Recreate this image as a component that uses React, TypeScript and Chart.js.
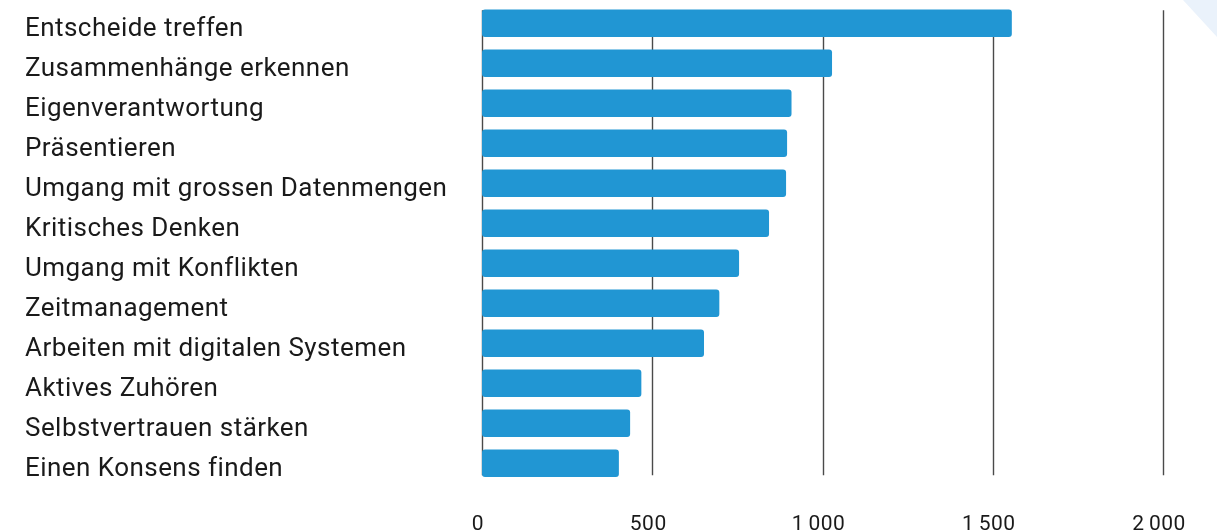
import React, { useEffect, useRef } from "react";
import { Chart, registerables } from "chart.js";

Chart.register(...registerables);

const categories = [
  "Entscheide treffen",
  "Zusammenhänge erkennen",
  "Eigenverantwortung",
  "Präsentieren",
  "Umgang mit grossen Datenmengen",
  "Kritisches Denken",
  "Umgang mit Konflikten",
  "Zeitmanagement",
  "Arbeiten mit digitalen Systemen",
  "Aktives Zuhören",
  "Selbstvertrauen stärken",
  "Einen Konsens finden",
];

const values = [1556, 1028, 909, 896, 893, 843, 755, 697, 652, 468, 435, 402];

const xTicks = [0, 500, 1000, 1500, 2000];

const formatTick = (v: number) => {
  const s = String(v);
  return s.length > 3 ? s.slice(0, s.length - 3) + "\u2009" + s.slice(-3) : s;
};

const gridPlugin = {
  id: "customGrid",
  beforeDatasetsDraw(chart: any) {
    const { ctx, chartArea, scales } = chart;
    ctx.save();
    ctx.strokeStyle = "#4a4a4a";
    ctx.lineWidth = 1.4;
    for (const t of xTicks) {
      const x = Math.round(scales.x.getPixelForValue(t)) + 0.5;
      ctx.beginPath();
      ctx.moveTo(x, chartArea.top + 7);
      ctx.lineTo(x, chartArea.bottom - 8);
      ctx.stroke();
    }
    ctx.restore();
  },
};

const cornerPlugin = {
  id: "corner",
  beforeDraw(chart: any) {
    const { ctx, width } = chart;
    (ctx as any).letterSpacing = "0.45px";
    ctx.save();
    ctx.fillStyle = "#eaf2fb";
    ctx.beginPath();
    ctx.moveTo(width - 34, 0);
    ctx.lineTo(width, 0);
    ctx.lineTo(width, 37);
    ctx.closePath();
    ctx.fill();
    ctx.restore();
  },
};

export default function App() {
  const ref = useRef<HTMLCanvasElement>(null);
  useEffect(() => {
    if (!ref.current) return;
    const chart = new Chart(ref.current, {
      type: "bar",
      data: {
        labels: categories,
        datasets: [
          {
            data: values,
            backgroundColor: "#2196D3",
            borderColor: "#2196D3",
            borderWidth: 0,
            borderRadius: 3,
            borderSkipped: false,
            barPercentage: 0.6875,
            categoryPercentage: 1,
          },
        ],
      },
      options: {
        indexAxis: "y",
        animation: false,
        responsive: false,
        maintainAspectRatio: false,
        layout: { padding: { left: 25, right: 54, top: 3.25, bottom: 0 } },
        plugins: { legend: { display: false }, tooltip: { enabled: false } },
        scales: {
          x: {
            min: 0,
            max: 2000,
            afterBuildTicks: (scale: any) => {
              scale.ticks = xTicks.map((v) => ({ value: v }));
            },
            afterFit: (scale: any) => {
              scale.height = 48.75;
              scale.paddingLeft = 0;
              scale.paddingRight = 0;
            },
            grid: { display: false, drawTicks: false },
            border: { display: false },
            ticks: {
              padding: 29,
              labelOffset: -4,
              color: "#1a1a1a",
              font: { family: "Roboto", size: 21 },
              callback: (v: any) => formatTick(Number(v)),
            },
          },
          y: {
            afterFit: (scale: any) => {
              scale.width = 457;
              scale.paddingTop = 0;
              scale.paddingBottom = 0;
            },
            grid: { display: false, drawTicks: false },
            border: { display: false },
            ticks: {
              crossAlign: "far",
              labelOffset: 6,
              color: "#1a1a1a",
              font: { family: "Roboto", size: 26 },
            },
          },
        },
      },
      plugins: [gridPlugin, cornerPlugin],
    } as any);
    return () => chart.destroy();
  }, []);
  return (
    <div style={{ position: "absolute", left: 0, top: 0, width: 1217, height: 532, background: "#fff" }}>
      <canvas ref={ref} width={1217} height={532} style={{ width: 1217, height: 532, display: "block" }} />
    </div>
  );
}
